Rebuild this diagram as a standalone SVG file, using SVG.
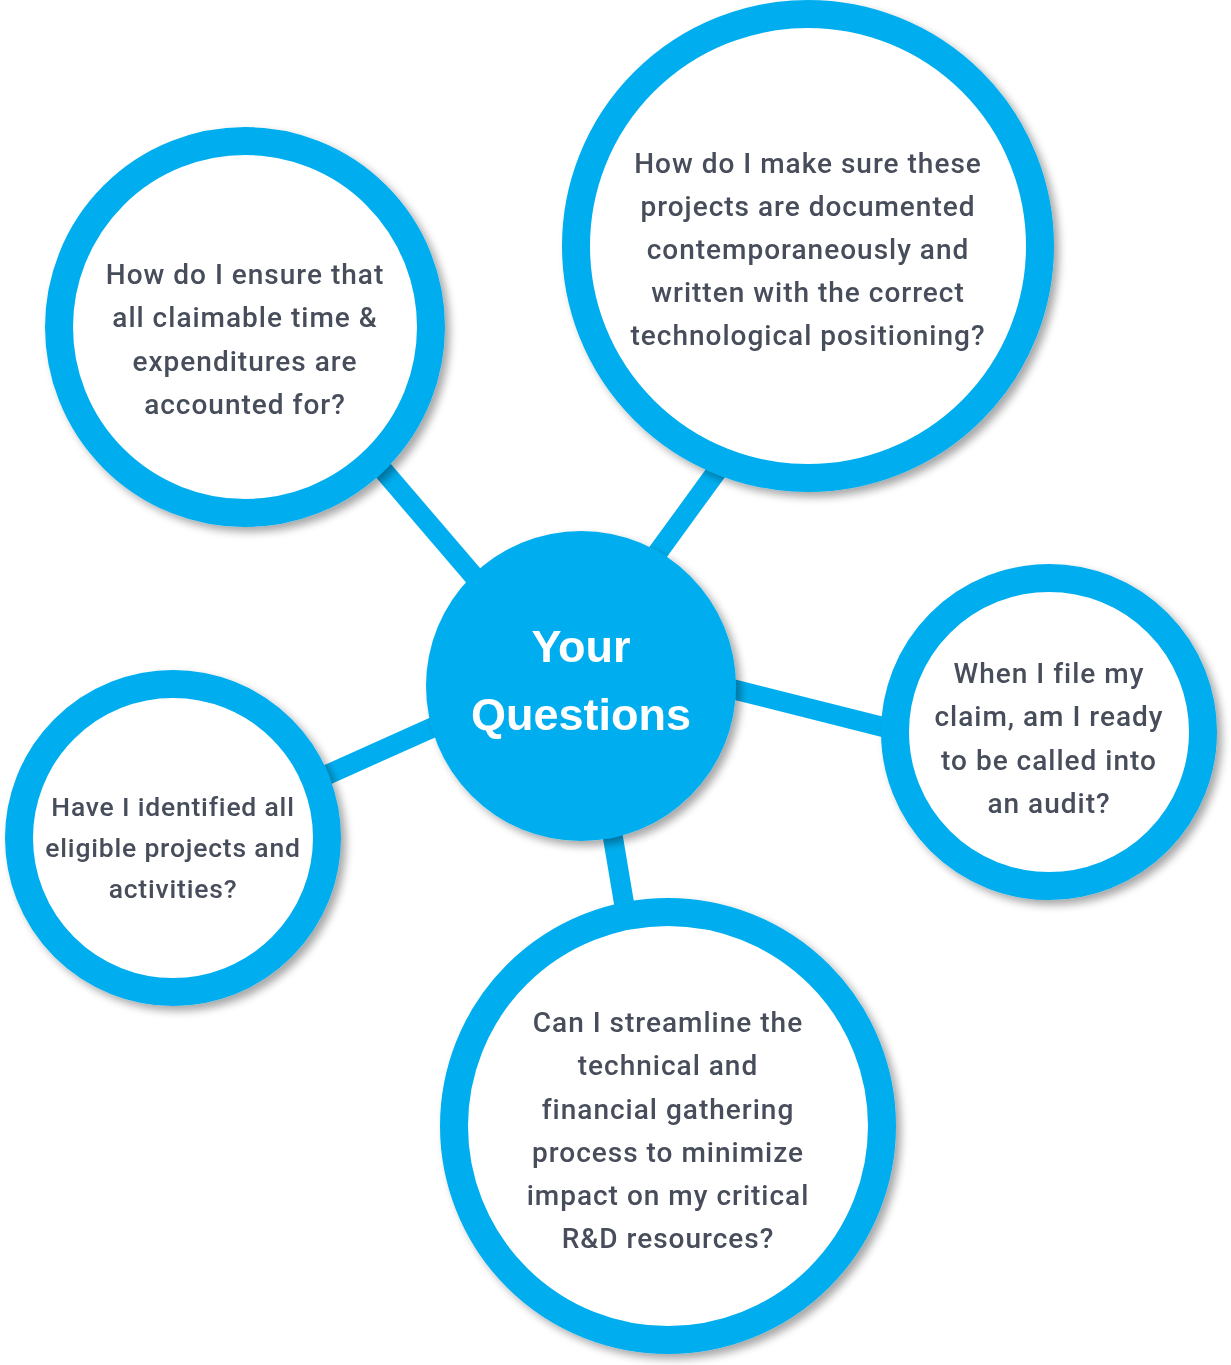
<svg xmlns="http://www.w3.org/2000/svg" width="1231" height="1365" viewBox="0 0 1231 1365">
<defs>
<filter id="sh" x="-10%" y="-10%" width="125%" height="125%">
<feGaussianBlur in="SourceAlpha" stdDeviation="4"/>
<feOffset dx="5" dy="5" result="b"/>
<feComponentTransfer><feFuncA type="linear" slope="0.35"/></feComponentTransfer>
<feMerge><feMergeNode/><feMergeNode in="SourceGraphic"/></feMerge>
</filter>
<style>
.ring{fill:#ffffff;stroke:#00aeef;stroke-width:28}
.hub{fill:#00aeef}
.con{stroke:#00aeef;stroke-width:20;fill:none}
.t{font-family:"Roboto","Liberation Sans",sans-serif;font-weight:500;font-size:28px;letter-spacing:1px;fill:#474d5a;text-anchor:middle}
.s{font-size:26.5px;letter-spacing:0.8px}
.h{font-family:"Liberation Sans","Roboto",sans-serif;font-weight:bold;font-size:45px;fill:#ffffff;text-anchor:middle}
</style>
</defs>
<rect width="1231" height="1365" fill="#ffffff"/>
<g id="connectors">
<line class="con" x1="370" y1="455" x2="490" y2="595"/>
<line class="con" x1="725" y1="460" x2="645" y2="570"/>
<line class="con" x1="720" y1="686" x2="895" y2="730"/>
<line class="con" x1="320" y1="778" x2="445" y2="722"/>
<line class="con" x1="610" y1="820" x2="626" y2="915"/>
</g>
<g id="hub" filter="url(#sh)">
<circle class="hub" cx="581" cy="686" r="155"/>
<text class="h" x="581" y="662">Your</text>
<text class="h" x="581" y="730">Questions</text>
</g>
<g id="node-tl" filter="url(#sh)">
<circle class="ring" cx="245" cy="327" r="186"/>
<text class="t" x="245" y="284">How do I ensure that</text>
<text class="t" x="245" y="327">all claimable time &amp;</text>
<text class="t" x="245" y="371">expenditures are</text>
<text class="t" x="245" y="414">accounted for?</text>
</g>
<g id="node-tr" filter="url(#sh)">
<circle class="ring" cx="808" cy="246" r="232"/>
<text class="t" x="808" y="173">How do I make sure these</text>
<text class="t" x="808" y="216">projects are documented</text>
<text class="t" x="808" y="259">contemporaneously and</text>
<text class="t" x="808" y="302">written with the correct</text>
<text class="t" x="808" y="345">technological positioning?</text>
</g>
<g id="node-r" filter="url(#sh)">
<circle class="ring" cx="1049" cy="732" r="154"/>
<text class="t" x="1049" y="683">When I file my</text>
<text class="t" x="1049" y="726">claim, am I ready</text>
<text class="t" x="1049" y="770">to be called into</text>
<text class="t" x="1049" y="813">an audit?</text>
</g>
<g id="node-l" filter="url(#sh)">
<circle class="ring" cx="173" cy="838" r="154"/>
<text class="t s" x="173" y="816">Have I identified all</text>
<text class="t s" x="173" y="857">eligible projects and</text>
<text class="t s" x="173" y="898">activities?</text>
</g>
<g id="node-b" filter="url(#sh)">
<circle class="ring" cx="668" cy="1126" r="214"/>
<text class="t" x="668" y="1032">Can I streamline the</text>
<text class="t" x="668" y="1075">technical and</text>
<text class="t" x="668" y="1119">financial gathering</text>
<text class="t" x="668" y="1162">process to minimize</text>
<text class="t" x="668" y="1205">impact on my critical</text>
<text class="t" x="668" y="1248">R&amp;D resources?</text>
</g>
</svg>
